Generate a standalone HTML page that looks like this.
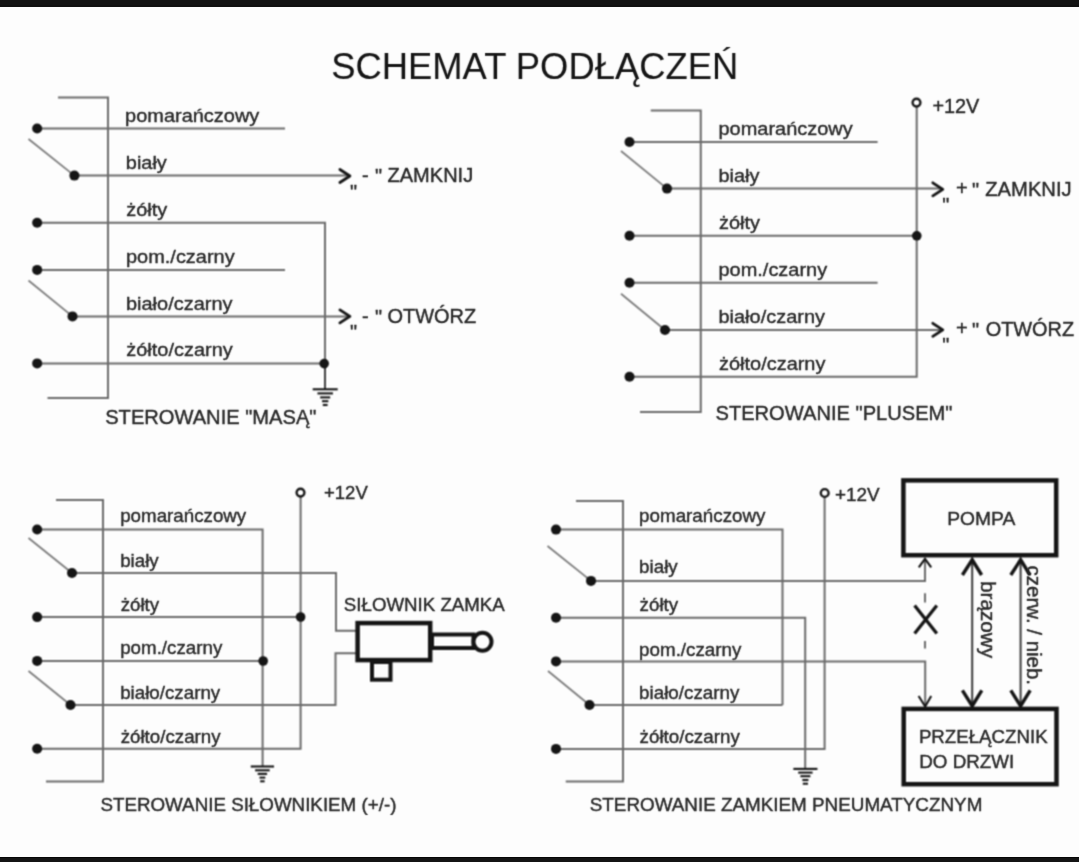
<!DOCTYPE html>
<html><head><meta charset="utf-8"><style>
html,body{margin:0;padding:0;background:#fdfdfd;}
body{width:1079px;height:862px;overflow:hidden;position:relative;}
svg{position:absolute;left:0;top:0;}
text{font-family:"Liberation Sans",sans-serif;fill:#282828;stroke:#282828;stroke-width:0.4px;}
</style></head><body>
<svg width="1079" height="862" viewBox="0 0 1079 862"><defs><filter id="f1" filterUnits="userSpaceOnUse" x="0" y="0" width="1079" height="862" color-interpolation-filters="sRGB"><feConvolveMatrix order="3" kernelMatrix="1 2 1 2 4 2 1 2 1" divisor="16" edgeMode="none" preserveAlpha="false"/></filter></defs><g filter="url(#f1)">
<path d="M58,97.5 H108 V398 H47.5" fill="none" stroke="#6a6a6a" stroke-width="2.0" />
<line x1="37" y1="128.5" x2="285" y2="128.5" stroke="#6a6a6a" stroke-width="2.0"/>
<line x1="28.5" y1="139" x2="74.4" y2="175.6" stroke="#7c7c7c" stroke-width="1.8"/>
<line x1="74.4" y1="175.6" x2="349" y2="175.6" stroke="#6a6a6a" stroke-width="2.0"/>
<path d="M339.9,169.5 L349.9,176 L339.9,182.5" fill="none" stroke="#151515" stroke-width="2.8" stroke-linejoin="round" stroke-linecap="round"/>
<path d="M37,222.7 H325 V389" fill="none" stroke="#6a6a6a" stroke-width="2.0" />
<line x1="37" y1="269.9" x2="285" y2="269.9" stroke="#6a6a6a" stroke-width="2.0"/>
<line x1="28.5" y1="280.5" x2="72.5" y2="316.4" stroke="#7c7c7c" stroke-width="1.8"/>
<line x1="72.5" y1="316.4" x2="349" y2="316.4" stroke="#6a6a6a" stroke-width="2.0"/>
<path d="M339.9,309.9 L349.9,316.4 L339.9,322.9" fill="none" stroke="#151515" stroke-width="2.8" stroke-linejoin="round" stroke-linecap="round"/>
<line x1="37" y1="363.4" x2="325" y2="363.4" stroke="#6a6a6a" stroke-width="2.0"/>
<line x1="325" y1="364" x2="325" y2="389" stroke="#3c3c3c" stroke-width="1.9"/>
<line x1="312.7" y1="389.3" x2="337.7" y2="389.3" stroke="#151515" stroke-width="2.1"/>
<line x1="317.45" y1="393.4" x2="332.95" y2="393.4" stroke="#151515" stroke-width="2.1"/>
<line x1="320.2" y1="397.4" x2="330.2" y2="397.4" stroke="#151515" stroke-width="2.1"/>
<line x1="322.05" y1="401.2" x2="328.34999999999997" y2="401.2" stroke="#151515" stroke-width="2.1"/>
<line x1="322.8" y1="405" x2="327.59999999999997" y2="405" stroke="#151515" stroke-width="2.1"/>
<path d="M650.75,110.5 H700.75 V412 H640" fill="none" stroke="#6a6a6a" stroke-width="2.0" />
<line x1="629.5" y1="142" x2="877.6" y2="142" stroke="#6a6a6a" stroke-width="2.0"/>
<line x1="621" y1="151" x2="667" y2="188.6" stroke="#7c7c7c" stroke-width="1.8"/>
<line x1="667" y1="188.6" x2="942.5" y2="188.6" stroke="#6a6a6a" stroke-width="2.0"/>
<path d="M932.8,182.8 L942.8,189.3 L932.8,195.8" fill="none" stroke="#151515" stroke-width="2.8" stroke-linejoin="round" stroke-linecap="round"/>
<line x1="629.5" y1="235.75" x2="917" y2="235.75" stroke="#6a6a6a" stroke-width="2.0"/>
<line x1="629.5" y1="282.75" x2="877.6" y2="282.75" stroke="#6a6a6a" stroke-width="2.0"/>
<line x1="621" y1="293.75" x2="665" y2="330" stroke="#7c7c7c" stroke-width="1.8"/>
<line x1="665" y1="330" x2="942.5" y2="330" stroke="#6a6a6a" stroke-width="2.0"/>
<path d="M932.8,323.3 L942.8,329.8 L932.8,336.3" fill="none" stroke="#151515" stroke-width="2.8" stroke-linejoin="round" stroke-linecap="round"/>
<path d="M629.5,376.75 H916.7 V103" fill="none" stroke="#6a6a6a" stroke-width="2.0" />
<path d="M56,500 H103 V781.5 H46" fill="none" stroke="#6a6a6a" stroke-width="2.0" />
<path d="M37,529.5 H262.6 V766" fill="none" stroke="#6a6a6a" stroke-width="2.0" />
<line x1="28.5" y1="538" x2="72" y2="573" stroke="#7c7c7c" stroke-width="1.8"/>
<path d="M72,573 H336 V630.8 H357" fill="none" stroke="#6a6a6a" stroke-width="2.0" />
<line x1="37" y1="617.1" x2="300.6" y2="617.1" stroke="#6a6a6a" stroke-width="2.0"/>
<line x1="37" y1="660.9" x2="262.6" y2="660.9" stroke="#6a6a6a" stroke-width="2.0"/>
<line x1="28.5" y1="671" x2="70.5" y2="705" stroke="#7c7c7c" stroke-width="1.8"/>
<path d="M70.5,705 H335.5 V653.3 H357" fill="none" stroke="#6a6a6a" stroke-width="2.0" />
<path d="M37,748.75 H300.6 V493" fill="none" stroke="#6a6a6a" stroke-width="2.0" />
<line x1="250.74999999999997" y1="766.5" x2="274.04999999999995" y2="766.5" stroke="#151515" stroke-width="2.1"/>
<line x1="255.09999999999997" y1="770.3" x2="269.7" y2="770.3" stroke="#151515" stroke-width="2.1"/>
<line x1="257.7" y1="773.9" x2="267.09999999999997" y2="773.9" stroke="#151515" stroke-width="2.1"/>
<line x1="259.5" y1="777.6" x2="265.29999999999995" y2="777.6" stroke="#151515" stroke-width="2.1"/>
<line x1="260.15" y1="781.3" x2="264.65" y2="781.3" stroke="#151515" stroke-width="2.1"/>
<rect x="357.6" y="623.1" width="72.6" height="37" fill="#fdfdfd" stroke="#151515" stroke-width="4.5"/>
<rect x="372" y="662" width="18.5" height="17.7" fill="none" stroke="#151515" stroke-width="4"/>
<rect x="432" y="634.5" width="41.5" height="13.5" fill="none" stroke="#151515" stroke-width="4"/>
<circle cx="482.5" cy="641.7" r="9" fill="#fdfdfd" stroke="#151515" stroke-width="4"/>
<path d="M576,501 H623 V781.5 H565.75" fill="none" stroke="#6a6a6a" stroke-width="2.0" />
<path d="M556,529.6 H782.5 V705" fill="none" stroke="#6a6a6a" stroke-width="2.0" />
<line x1="547.5" y1="546" x2="591" y2="580.9" stroke="#7c7c7c" stroke-width="1.8"/>
<path d="M591,580.9 H925 V559.5" fill="none" stroke="#6a6a6a" stroke-width="2.0" />
<path d="M556,617.7 H805.2 V768" fill="none" stroke="#6a6a6a" stroke-width="2.0" />
<path d="M556,661.4 H925.2 V706" fill="none" stroke="#6a6a6a" stroke-width="2.0" />
<line x1="548" y1="671" x2="589.5" y2="705" stroke="#7c7c7c" stroke-width="1.8"/>
<line x1="589.5" y1="705" x2="782.5" y2="705" stroke="#6a6a6a" stroke-width="2.0"/>
<path d="M556,748.9 H824.6 V493" fill="none" stroke="#6a6a6a" stroke-width="2.0" />
<line x1="793.35" y1="768.9" x2="817.4499999999999" y2="768.9" stroke="#151515" stroke-width="2.1"/>
<line x1="798.1999999999999" y1="772.6" x2="812.6" y2="772.6" stroke="#151515" stroke-width="2.1"/>
<line x1="800.4" y1="776.2" x2="810.4" y2="776.2" stroke="#151515" stroke-width="2.1"/>
<line x1="802.35" y1="780" x2="808.4499999999999" y2="780" stroke="#151515" stroke-width="2.1"/>
<line x1="802.8" y1="783.7" x2="808.0" y2="783.7" stroke="#151515" stroke-width="2.1"/>
<line x1="925" y1="593.3" x2="925" y2="602.4" stroke="#6a6a6a" stroke-width="2"/>
<line x1="925" y1="641" x2="925" y2="648.6" stroke="#6a6a6a" stroke-width="2"/>
<path d="M914.6,605.5 L936.8,633.5 M936.8,605.5 L914.6,633.5" stroke="#151515" stroke-width="3.3" fill="none"/>
<path d="M918.8,567.3 L925,558.8 L931.2,567.3" fill="none" stroke="#151515" stroke-width="2.1" />
<path d="M918.6,696 L925.2,706.5 L931.2,696" fill="none" stroke="#151515" stroke-width="2.1" />
<line x1="972.2" y1="560" x2="972.2" y2="706" stroke="#3a3a3a" stroke-width="2.0"/>
<path d="M962.4000000000001,575 L972.2,559.8 L981.6,575" fill="none" stroke="#151515" stroke-width="3.4" />
<path d="M962.4000000000001,690.4 L972.2,706 L981.8000000000001,690.4" fill="none" stroke="#151515" stroke-width="3.4" />
<line x1="1020.6" y1="560" x2="1020.6" y2="706" stroke="#3a3a3a" stroke-width="2.0"/>
<path d="M1010.8000000000001,575 L1020.6,559.8 L1030.0,575" fill="none" stroke="#151515" stroke-width="3.4" />
<path d="M1010.8000000000001,690.4 L1020.6,706 L1030.2,690.4" fill="none" stroke="#151515" stroke-width="3.4" />
<rect x="903.4" y="480.4" width="152.8" height="74.8" fill="none" stroke="#151515" stroke-width="4.5"/>
<rect x="903.7" y="708.9" width="152.8" height="75.3" fill="none" stroke="#151515" stroke-width="4.5"/>
</g></svg>
<svg width="1079" height="862" viewBox="0 0 1079 862"><defs><filter id="f2" filterUnits="userSpaceOnUse" x="0" y="0" width="1079" height="862" color-interpolation-filters="sRGB"><feConvolveMatrix order="3" kernelMatrix="1 2 1 2 4 2 1 2 1" divisor="16" edgeMode="none" preserveAlpha="false"/></filter></defs><g filter="url(#f2)">
<circle cx="37.15" cy="128.5" r="5.0" fill="#151515"/>
<circle cx="37.15" cy="222.7" r="5.0" fill="#151515"/>
<circle cx="37.15" cy="269.9" r="5.0" fill="#151515"/>
<circle cx="37.15" cy="363.4" r="5.0" fill="#151515"/>
<circle cx="74.4" cy="175.6" r="5.0" fill="#151515"/>
<circle cx="72.5" cy="316.4" r="5.0" fill="#151515"/>
<circle cx="324.2" cy="363.6" r="4.8" fill="#151515"/>
<circle cx="629.5" cy="142" r="5.0" fill="#151515"/>
<circle cx="629.5" cy="235.75" r="5.0" fill="#151515"/>
<circle cx="629.5" cy="282.75" r="5.0" fill="#151515"/>
<circle cx="629.5" cy="376.75" r="5.0" fill="#151515"/>
<circle cx="667" cy="188.6" r="5.0" fill="#151515"/>
<circle cx="665" cy="330" r="5.0" fill="#151515"/>
<circle cx="916.8" cy="235.8" r="4.8" fill="#151515"/>
<circle cx="916.5" cy="102.6" r="3.9" fill="#fdfdfd" stroke="#151515" stroke-width="2.4"/>
<circle cx="37.15" cy="529.5" r="5.0" fill="#151515"/>
<circle cx="37.15" cy="617.1" r="5.0" fill="#151515"/>
<circle cx="37.15" cy="660.9" r="5.0" fill="#151515"/>
<circle cx="37.15" cy="748.75" r="5.0" fill="#151515"/>
<circle cx="72" cy="573" r="5.0" fill="#151515"/>
<circle cx="70.5" cy="705" r="5.0" fill="#151515"/>
<circle cx="300.6" cy="617" r="4.8" fill="#151515"/>
<circle cx="263.2" cy="661" r="4.8" fill="#151515"/>
<circle cx="300.5" cy="492.6" r="3.9" fill="#fdfdfd" stroke="#151515" stroke-width="2.4"/>
<circle cx="556" cy="529.6" r="5.0" fill="#151515"/>
<circle cx="556" cy="617.7" r="5.0" fill="#151515"/>
<circle cx="556" cy="661.4" r="5.0" fill="#151515"/>
<circle cx="556" cy="748.9" r="5.0" fill="#151515"/>
<circle cx="591" cy="580.9" r="5.0" fill="#151515"/>
<circle cx="589.5" cy="705" r="5.0" fill="#151515"/>
<circle cx="824.7" cy="493" r="3.9" fill="#fdfdfd" stroke="#151515" stroke-width="2.4"/>
</g></svg>
<svg width="1079" height="862" viewBox="0 0 1079 862"><defs><filter id="f3" filterUnits="userSpaceOnUse" x="0" y="0" width="1079" height="862" color-interpolation-filters="sRGB"><feConvolveMatrix order="3" kernelMatrix="1 4 1 4 16 4 1 4 1" divisor="36" edgeMode="none" preserveAlpha="false"/></filter></defs><g filter="url(#f3)">
<text x="331.26" y="78.80" font-size="36.38" style="fill:#141414;stroke:#141414;stroke-width:0.1px">SCHEMAT PODŁĄCZEŃ</text>
<text transform="translate(125.10,121.60) scale(1,0.94)" x="0" y="0" font-size="19.95" >pomarańczowy</text>
<text transform="translate(125.80,168.80) scale(1,0.94)" x="0" y="0" font-size="19.95" >biały</text>
<text transform="translate(126.30,216.10) scale(1,0.94)" x="0" y="0" font-size="19.95" >żółty</text>
<text transform="translate(126.00,262.60) scale(1,0.94)" x="0" y="0" font-size="19.95" >pom./czarny</text>
<text transform="translate(126.00,309.90) scale(1,0.94)" x="0" y="0" font-size="19.95" >biało/czarny</text>
<text transform="translate(126.30,356.10) scale(1,0.94)" x="0" y="0" font-size="19.95" >żółto/czarny</text>
<text x="350.10" y="198.6" font-size="20">&quot;</text>
<text x="362.10" y="182.20" font-size="20.00" >-</text>
<text x="375.10" y="182.80" font-size="20.00" >&quot;</text>
<text x="387.50" y="182.20" font-size="20.05" >ZAMKNIJ</text>
<text x="350.10" y="338.6" font-size="20">&quot;</text>
<text x="362.10" y="322.90" font-size="20.00" >-</text>
<text x="375.10" y="323.50" font-size="20.00" >&quot;</text>
<text x="387.50" y="322.90" font-size="19.98" >OTWÓRZ</text>
<text x="105.19" y="423.90" font-size="20.12" >STEROWANIE &quot;MASĄ&quot;</text>
<text x="932.41" y="112.80" font-size="19.87" >+12V</text>
<text transform="translate(718.50,134.60) scale(1,0.94)" x="0" y="0" font-size="19.95" >pomarańczowy</text>
<text transform="translate(718.50,181.80) scale(1,0.94)" x="0" y="0" font-size="19.95" >biały</text>
<text transform="translate(719.00,228.80) scale(1,0.94)" x="0" y="0" font-size="19.95" >żółty</text>
<text transform="translate(718.50,275.80) scale(1,0.94)" x="0" y="0" font-size="19.95" >pom./czarny</text>
<text transform="translate(718.50,323.00) scale(1,0.94)" x="0" y="0" font-size="19.95" >biało/czarny</text>
<text transform="translate(719.00,369.80) scale(1,0.94)" x="0" y="0" font-size="19.95" >żółto/czarny</text>
<text x="942.30" y="211.9" font-size="20">&quot;</text>
<text x="955.90" y="194.90" font-size="20.00" >+</text>
<text x="972.00" y="196.90" font-size="20.00" >&quot;</text>
<text x="985.29" y="196.20" font-size="20.19" >ZAMKNIJ</text>
<text x="942.30" y="351.9" font-size="20">&quot;</text>
<text x="955.90" y="334.90" font-size="20.00" >+</text>
<text x="972.00" y="336.90" font-size="20.00" >&quot;</text>
<text x="985.70" y="336.20" font-size="19.91" >OTWÓRZ</text>
<text x="715.49" y="420.30" font-size="20.12" >STEROWANIE &quot;PLUSEM&quot;</text>
<text x="323.97" y="499.30" font-size="18.52" >+12V</text>
<text x="343.86" y="611.30" font-size="18.69" >SIŁOWNIK ZAMKA</text>
<text transform="translate(120.18,522.40) scale(1,0.94)" x="0" y="0" font-size="18.75" >pomarańczowy</text>
<text transform="translate(120.18,566.60) scale(1,0.94)" x="0" y="0" font-size="18.75" >biały</text>
<text transform="translate(120.65,610.60) scale(1,0.94)" x="0" y="0" font-size="18.75" >żółty</text>
<text transform="translate(120.18,654.40) scale(1,0.94)" x="0" y="0" font-size="18.75" >pom./czarny</text>
<text transform="translate(120.18,698.60) scale(1,0.94)" x="0" y="0" font-size="18.75" >biało/czarny</text>
<text transform="translate(120.65,742.60) scale(1,0.94)" x="0" y="0" font-size="18.75" >żółto/czarny</text>
<text x="100.46" y="810.50" font-size="18.77" >STEROWANIE SIŁOWNIKIEM (+/-)</text>
<text x="835.05" y="501.40" font-size="18.92" >+12V</text>
<text x="947.16" y="524.60" font-size="19.25" >POMPA</text>
<text x="918.90" y="742.90" font-size="18.71" >PRZEŁĄCZNIK</text>
<text x="919.30" y="768.00" font-size="18.81" >DO DRZWI</text>
<text transform="translate(980.6,580.95) rotate(90)" x="0" y="0" font-size="19.3" textLength="77.23" lengthAdjust="spacingAndGlyphs">brązowy</text>
<text transform="translate(1026.6,565.58) rotate(90)" x="0" y="0" font-size="19.8" textLength="119.48" lengthAdjust="spacingAndGlyphs">czerw. / nieb.</text>
<text transform="translate(639.08,522.10) scale(1,0.94)" x="0" y="0" font-size="18.80" >pomarańczowy</text>
<text transform="translate(639.08,573.30) scale(1,0.94)" x="0" y="0" font-size="18.80" >biały</text>
<text transform="translate(639.55,611.30) scale(1,0.94)" x="0" y="0" font-size="18.80" >żółty</text>
<text transform="translate(639.08,655.70) scale(1,0.94)" x="0" y="0" font-size="18.80" >pom./czarny</text>
<text transform="translate(639.08,699.10) scale(1,0.94)" x="0" y="0" font-size="18.80" >biało/czarny</text>
<text transform="translate(639.55,742.50) scale(1,0.94)" x="0" y="0" font-size="18.80" >żółto/czarny</text>
<text x="589.75" y="810.60" font-size="18.85" >STEROWANIE ZAMKIEM PNEUMATYCZNYM</text>
</g></svg>
<svg width="1079" height="862" viewBox="0 0 1079 862"><g>
<rect x="0" y="0" width="1079" height="6.8" fill="#141414"/><rect x="0" y="5.8" width="1079" height="1" fill="#050505"/><rect x="0" y="857" width="1079" height="5" fill="#141414"/><rect x="0" y="857" width="1079" height="1" fill="#050505"/>
</g></svg>
</body></html>
